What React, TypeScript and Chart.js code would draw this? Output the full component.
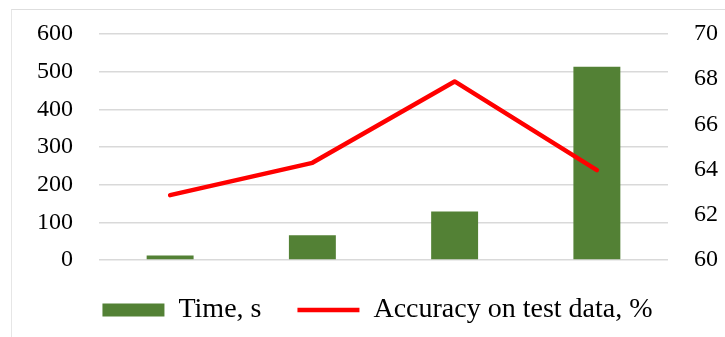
import React, { useEffect, useRef } from "react";
import { Chart, registerables } from "chart.js";

Chart.register(...registerables);

// Four training runs: elapsed time (bars, left axis) and test accuracy (line, right axis)
const runs = ["1", "2", "3", "4"];
const timeSeconds = [12, 66, 129, 513];
const accuracyPct = [62.87, 64.3, 67.9, 63.98];

const timeTicks = [0, 100, 200, 300, 400, 500, 600];
const accuracyTicks = [60, 62, 64, 66, 68, 70];

const FONT = '"Liberation Serif", "Times New Roman", serif';
const GREEN = "#538135";
const RED = "#ff0000";
const GRID = "#d9d9d9";

// The tick padding is only meant as a horizontal gap; keep the vertical
// overhang of a y axis at half a label height.
const trimVerticalPadding = (scale: any) => {
  scale.paddingTop = 14;
  scale.paddingBottom = 14;
};

export default function App() {
  const canvasRef = useRef<HTMLCanvasElement | null>(null);

  useEffect(() => {
    const canvas = canvasRef.current;
    if (!canvas) return;
    const chart = new Chart(canvas, {
      type: "bar",
      data: {
        labels: runs,
        datasets: [
          {
            type: "line",
            label: "Accuracy on test data, %",
            data: accuracyPct,
            yAxisID: "yAcc",
            borderColor: RED,
            backgroundColor: RED,
            borderWidth: 4.5,
            borderCapStyle: "round",
            borderJoinStyle: "round",
            pointRadius: 0,
            pointHoverRadius: 0,
            pointStyle: "line",
            tension: 0,
            order: 0,
          },
          {
            type: "bar",
            label: "Time, s",
            data: timeSeconds,
            yAxisID: "yTime",
            backgroundColor: GREEN,
            borderWidth: 0,
            pointStyle: "rect",
            barPercentage: 0.33,
            categoryPercentage: 1,
            order: 1,
          },
        ],
      },
      options: {
        responsive: false,
        animation: false,
        devicePixelRatio: 1,
        layout: { padding: { left: 11, right: -19, top: 34, bottom: 3 } },
        plugins: {
          tooltip: { enabled: false },
          legend: {
            position: "bottom",
            reverse: true,
            labels: {
              usePointStyle: true,
              pointStyleWidth: 62,
              boxHeight: 13,
              padding: 36,
              color: "#000",
              font: { family: FONT, size: 28 },
            },
          },
        },
        scales: {
          x: { display: false, offset: true },
          yTime: {
            type: "linear",
            position: "left",
            min: 0,
            max: 600,
            afterBuildTicks: (s: any) => {
              s.ticks = timeTicks.map((v) => ({ value: v }));
            },
            afterFit: trimVerticalPadding,
            border: { display: false },
            grid: { color: GRID, lineWidth: 1.5, drawTicks: false },
            ticks: {
              padding: 26,
              color: "#000",
              font: { family: FONT, size: 24 },
            },
          },
          yAcc: {
            type: "linear",
            position: "right",
            min: 60,
            max: 70,
            afterBuildTicks: (s: any) => {
              s.ticks = accuracyTicks.map((v) => ({ value: v }));
            },
            afterFit: trimVerticalPadding,
            border: { display: false },
            grid: { drawOnChartArea: false, drawTicks: false },
            ticks: {
              padding: 26,
              color: "#000",
              font: { family: FONT, size: 24 },
            },
          },
        },
      },
    });
    return () => chart.destroy();
  }, []);

  return (
    <div style={{ position: "fixed", left: 0, top: 0, width: 725, height: 337, background: "#fff" }}>
      <div
        style={{
          position: "absolute",
          left: 11,
          top: 9,
          right: 0,
          bottom: 0,
          borderTop: "1px solid #dedede",
          borderLeft: "1px solid #e6e6e6",
        }}
      />
      <canvas ref={canvasRef} width={725} height={337} style={{ position: "absolute", left: 0, top: 0 }} />
    </div>
  );
}
